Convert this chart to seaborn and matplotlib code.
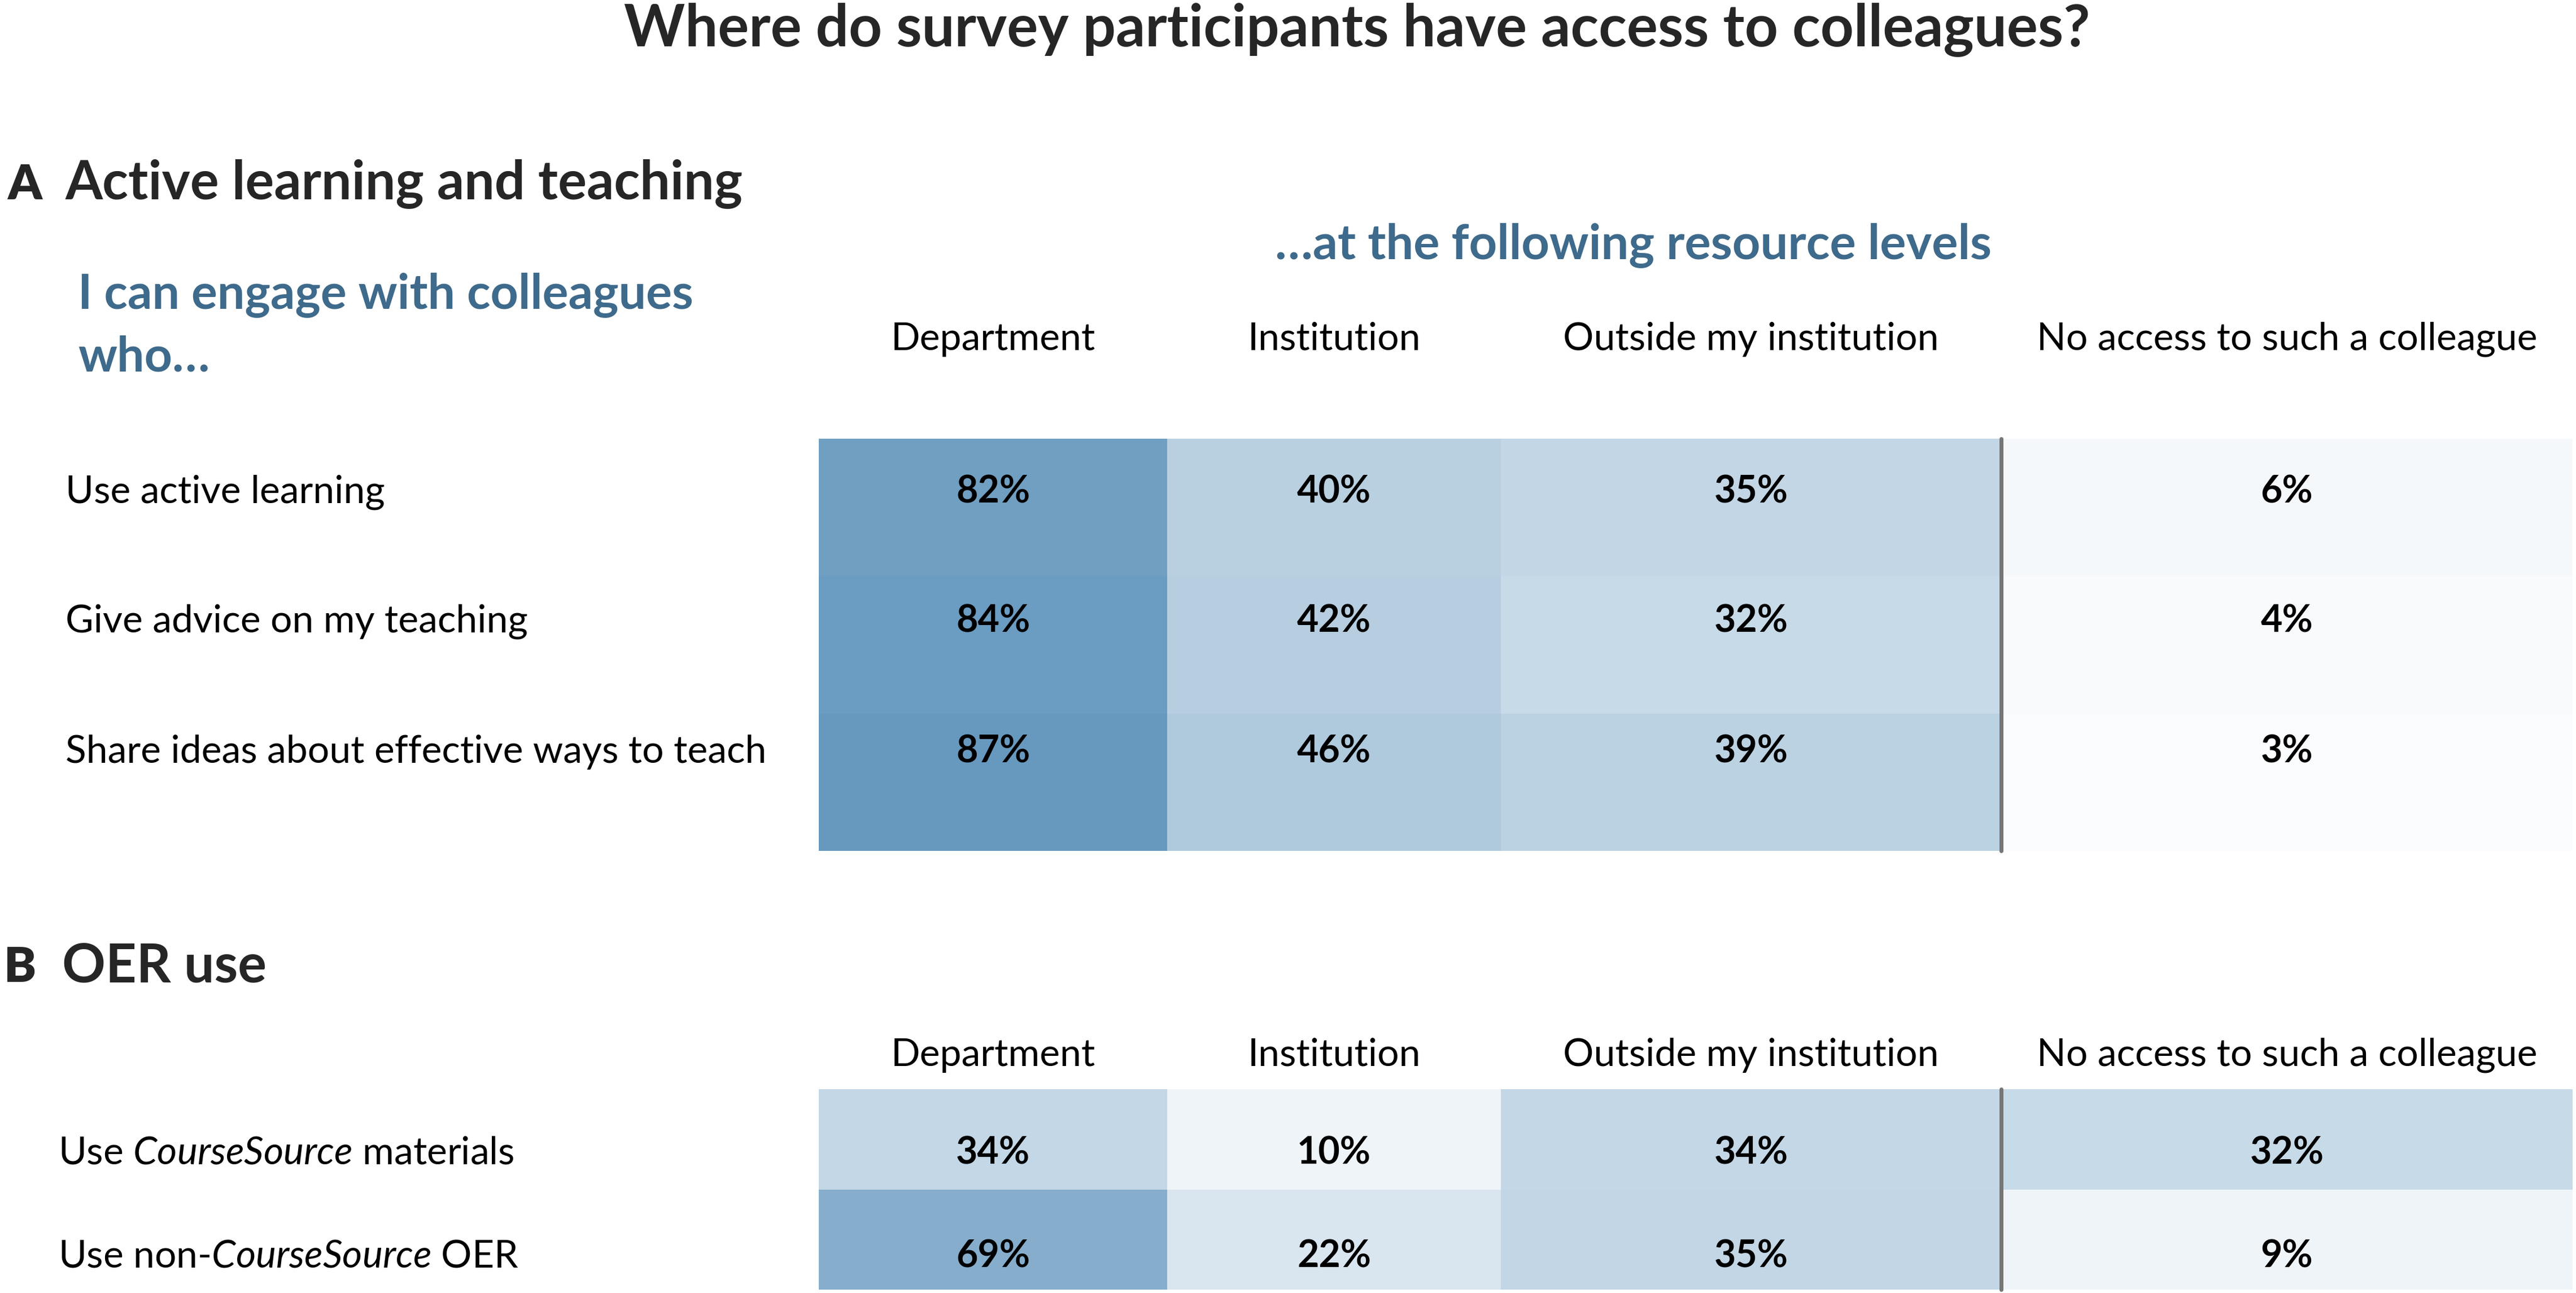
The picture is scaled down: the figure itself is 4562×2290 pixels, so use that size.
import numpy as np
import pandas as pd
import seaborn as sns
import matplotlib
matplotlib.use("Agg")
import matplotlib.pyplot as plt
from matplotlib.colors import LinearSegmentedColormap
from matplotlib.transforms import blended_transform_factory

# ---------------- data ----------------
title = "Where do survey participants have access to colleagues?"
columns = ["Department", "Institution", "Outside my institution",
           "No access to such a colleague"]

rows_a = ["Use active learning", "Give advice on my teaching",
          "Share ideas about effective ways to teach"]
dept_a = [82, 84, 87]
inst_a = [40, 42, 46]
outside_a = [35, 32, 39]
noaccess_a = [6, 4, 3]

rows_b = ["Use $\\mathit{CourseSource}$ materials",
          "Use non-$\\mathit{CourseSource}$ OER"]
dept_b = [34, 69]
inst_b = [10, 22]
outside_b = [34, 35]
noaccess_b = [32, 9]

# ---------------- style ----------------
sns.set_theme(style="white")
plt.rcParams['font.family'] = ['Lato', 'DejaVu Sans']
plt.rcParams['mathtext.fontset'] = 'custom'
plt.rcParams['mathtext.rm'] = 'Lato'
plt.rcParams['mathtext.it'] = 'Lato:italic'
plt.rcParams['mathtext.bf'] = 'Lato:bold'

BLUE = "#3E6A8C"
cmap = LinearSegmentedColormap.from_list("blues_soft", ["#ffffff", "#508AB5"])

W, H, DPI = 4562, 2290, 100
fig = plt.figure(figsize=(W / DPI, H / DPI), dpi=DPI)
fig.patch.set_facecolor("white")
renderer = fig.canvas.get_renderer()


def fx(x):
    return x / W


def fy(y):
    return 1 - y / H


def fit_width(t, target):
    for _ in range(2):
        w = t.get_window_extent(renderer=renderer).width
        t.set_fontsize(t.get_fontsize() * target / w)
    return t.get_fontsize()


# measure body & value sizes
tmp = fig.text(0, 0, "No access to such a colleague", fontsize=40)
BODY = fit_width(tmp, 885)
tmp.remove()
tmp = fig.text(0, 0, "84%", fontsize=40, fontweight="bold")
VAL = fit_width(tmp, 131)
tmp.remove()

# ---------------- headings ----------------
t = fig.text(fx(2403), fy(82), title, ha="center", va="baseline",
             fontweight="bold", fontsize=60)
fit_width(t, 2597)

t = fig.text(fx(116), fy(353), "Active learning and teaching", ha="left",
             va="baseline", fontweight="bold", fontsize=60)
HEAD = fit_width(t, 1200)
fig.text(fx(13), fy(353), "A", ha="left", va="baseline", fontweight="heavy",
         fontsize=HEAD * 0.9)

fig.text(fx(110), fy(1739), "OER use", ha="left", va="baseline",
         fontweight="bold", fontsize=HEAD)
fig.text(fx(7), fy(1739), "B", ha="left", va="baseline", fontweight="heavy",
         fontsize=HEAD * 0.9)

t = fig.text(fx(2892), fy(459), "\u2026at the following resource levels",
             ha="center", va="baseline", fontweight="bold", color=BLUE,
             fontsize=50)
fit_width(t, 1268)

t = fig.text(fx(138), fy(547), "I can engage with colleagues", ha="left",
             va="baseline", fontweight="bold", color=BLUE, fontsize=50)
SUB = fit_width(t, 1090)
fig.text(fx(138), fy(658), "who\u2026", ha="left", va="baseline",
         fontweight="bold", color=BLUE, fontsize=SUB)

# ---------------- heatmaps ----------------
col_edges = [1450, 2067, 2658, 3544, 4556]

panels = [
    dict(rows=rows_a, cols=[dept_a, inst_a, outside_a, noaccess_a],
         top=777, bottom=1507, header_y=620, label_x=116,
         offsets=[0.39, 0.33, 0.28]),
    dict(rows=rows_b, cols=[dept_b, inst_b, outside_b, noaccess_b],
         top=1929, bottom=2284, header_y=1888, label_x=103,
         offsets=[0.64, 0.67]),
]

for p in panels:
    axes = []
    for j, (name, vals) in enumerate(zip(columns, p["cols"])):
        x0, x1 = col_edges[j], col_edges[j + 1]
        ax = fig.add_axes([fx(x0), fy(p["bottom"]), (x1 - x0) / W,
                           (p["bottom"] - p["top"]) / H])
        df = pd.DataFrame({name: vals}, index=p["rows"])
        labels = np.array([f"{v}%" for v in vals]).reshape(-1, 1)
        sns.heatmap(df, ax=ax, cmap=cmap, vmin=0, vmax=100, cbar=False,
                    annot=labels, fmt="", linewidths=0,
                    annot_kws=dict(fontsize=VAL, fontweight="bold",
                                   color="black"),
                    xticklabels=False, yticklabels=False)
        for txt in ax.texts:
            i = int(np.floor(txt.get_position()[1]))
            txt.set_y(i + p["offsets"][i])
        ax.set_xlabel("")
        ax.set_ylabel("")
        trans = blended_transform_factory(ax.transAxes, fig.transFigure)
        ax.text(0.5, fy(p["header_y"]), name, transform=trans, ha="center",
                va="baseline", fontsize=BODY, color="black")
        axes.append(ax)
    # separator line before "No access" column
    axes[3].axvline(0, color="#767676", lw=5, clip_on=False, zorder=10)
    # row labels
    ax0 = axes[0]
    trans = blended_transform_factory(fig.transFigure, ax0.transData)
    for i, lab in enumerate(p["rows"]):
        ax0.text(fx(p["label_x"]), i + p["offsets"][i], lab, transform=trans,
                 ha="left", va="center", fontsize=BODY, color="black")

fig.savefig("out.png", dpi=DPI, facecolor="white")
